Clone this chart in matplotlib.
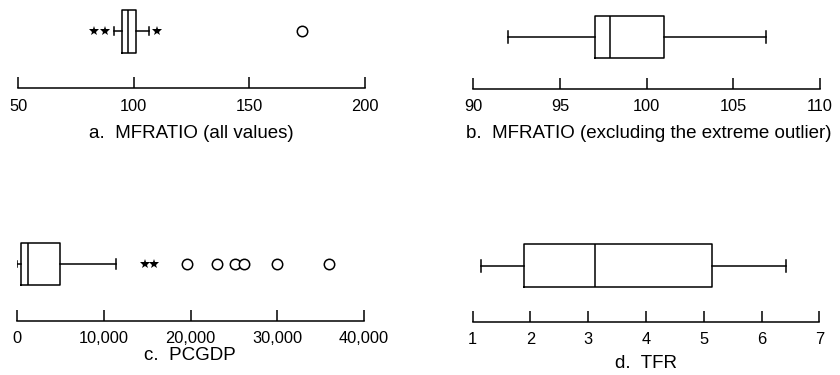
import matplotlib
matplotlib.use('Agg')
import matplotlib.pyplot as plt
from matplotlib.ticker import FuncFormatter

plt.rcParams['font.family'] = ['Liberation Sans', 'DejaVu Sans']

# ---------------- data ----------------
# a. MFRATIO (all values)
a_box = [91.5, 94.7, 97.4, 101.1, 106.5]        # whislo, q1, med, q3, whishi
a_extreme = [82.7, 87.5, 109.9]                  # stars
a_outliers = [172.6]                             # circles
a_ticks = [50, 100, 150, 200]
a_title = "a.  MFRATIO (all values)"

# b. MFRATIO (excluding the extreme outlier)
b_box = [92.0, 97.0, 97.9, 101.0, 106.9]
b_extreme = []
b_outliers = []
b_ticks = [90, 95, 100, 105, 110]
b_title = "b.  MFRATIO (excluding the extreme outlier)"

# c. PCGDP
c_box = [0, 390, 1270, 4930, 11390]
c_extreme = [14700, 15800]
c_outliers = [19550, 23080, 25150, 26150, 29990, 35920]
c_ticks = [0, 10000, 20000, 30000, 40000]
c_title = "c.  PCGDP"

# d. TFR
d_box = [1.14, 1.89, 3.12, 5.15, 6.42]
d_extreme = []
d_outliers = []
d_ticks = [1, 2, 3, 4, 5, 6, 7]
d_title = "d.  TFR"

# ---------------- figure ----------------
W, H = 840, 375
fig = plt.figure(figsize=(W / 100, H / 100), dpi=100)
LW = 1.1


def panel(x0, x1, axis_y, top_y, box_cy, box_h, cap_h, box, extreme, outliers,
          ticks, fmt=None, cap_lo=None):
    ax = fig.add_axes([x0 / W, 1 - axis_y / H, (x1 - x0) / W, (axis_y - top_y) / H])
    ax.set_xlim(ticks[0], ticks[-1])
    ax.set_ylim(0, axis_y - top_y)
    pos = axis_y - box_cy
    stats = [dict(whislo=box[0], q1=box[1], med=box[2], q3=box[3], whishi=box[4], fliers=[])]
    art = ax.bxp(stats, positions=[pos], widths=[box_h], orientation='horizontal',
                 showfliers=False, capwidths=[cap_h],
                 boxprops=dict(color='black', lw=LW),
                 medianprops=dict(color='black', lw=LW),
                 whiskerprops=dict(color='black', lw=LW),
                 capprops=dict(color='black', lw=LW))
    if cap_lo is not None:
        cap = art['caps'][0]
        cap.set_ydata([pos - cap_lo / 2, pos + cap_lo / 2])
    if extreme:
        ax.plot(extreme, [pos] * len(extreme), ls='none', marker='*', color='black',
                ms=7, mew=0, clip_on=False)
    if outliers:
        ax.plot(outliers, [pos] * len(outliers), ls='none', marker='o', mfc='white',
                mec='black', mew=LW, ms=7.5, clip_on=False)
    for s in ['top', 'left', 'right']:
        ax.spines[s].set_visible(False)
    ax.spines['bottom'].set_linewidth(LW)
    ax.set_yticks([])
    ax.set_xticks(ticks)
    if fmt:
        ax.xaxis.set_major_formatter(FuncFormatter(fmt))
    ax.tick_params(axis='x', direction='in', length=8, width=LW, labelsize=11.8, pad=7.5)
    ax.patch.set_alpha(0)
    return ax


panel(18.3, 365, 88.3, 0, 31, 43, 8, a_box, a_extreme, a_outliers, a_ticks)
panel(473.3, 820, 89, 0, 37, 42, 12, b_box, b_extreme, b_outliers, b_ticks)
panel(17.3, 364, 320.7, 200, 264, 42, 10, c_box, c_extreme, c_outliers, c_ticks,
      fmt=lambda v, p: f"{v:,.0f}", cap_lo=6)
panel(472.7, 819.3, 321.7, 200, 265.8, 43, 12, d_box, d_extreme, d_outliers, d_ticks)

title_kw = dict(ha='center', va='baseline', fontsize=13.5)
fig.text(191.7 / W, 1 - 137.7 / H, a_title, **title_kw)
fig.text(649 / W, 1 - 137.7 / H, b_title, **title_kw)
fig.text(190 / W, 1 - 360.5 / H, c_title, **title_kw)
fig.text(646 / W, 1 - 368 / H, d_title, **title_kw)

fig.savefig('out.png', dpi=100)
